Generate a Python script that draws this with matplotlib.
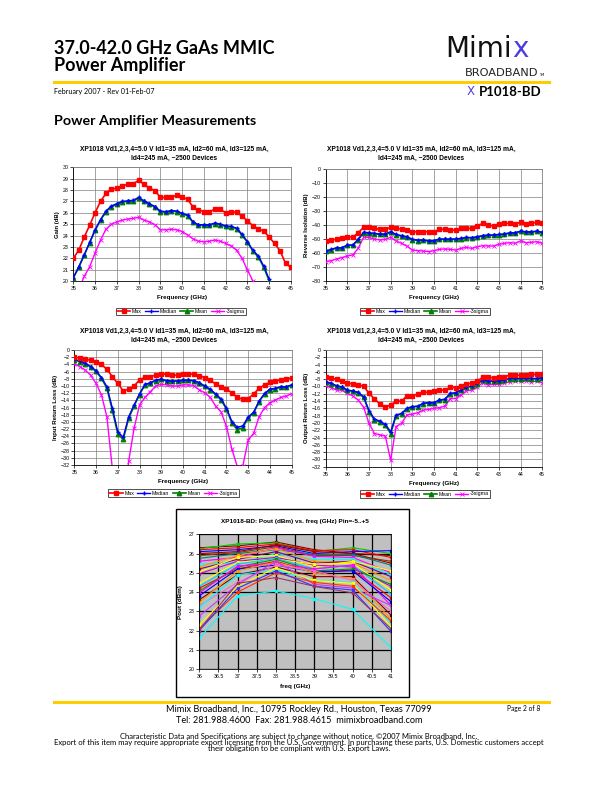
import numpy as np
import matplotlib
matplotlib.use("Agg")
import matplotlib.pyplot as plt

plt.rcParams['font.family'] = ['Liberation Sans', 'DejaVu Sans']

# frequency grid of the measurements (GHz)
freq = np.linspace(35.0, 45.0, 41)
labels = ["Max", "Median", "Mean", "-3sigma"]

# Gain (dB)
gain_max = [22.0, 22.7, 23.85, 24.9, 26.0, 27.0, 27.7, 28.1, 28.15, 28.35,
            28.5, 28.55, 28.85, 28.5, 28.15, 27.95, 27.35, 27.35, 27.35, 27.55,
            27.35, 27.2, 26.5, 26.25, 26.1, 26.1, 26.3, 26.3, 26.0, 26.1,
            26.05, 25.7, 25.3, 24.85, 24.55, 24.4, 23.85, 23.3, 22.65, 21.55, 21.2]
gain_median = [20.3, 21.25, 22.3, 23.4, 24.5, 25.4, 26.15, 26.6, 26.8, 27.0,
               27.05, 27.1, 27.35, 27.05, 26.8, 26.55, 26.15, 26.1, 26.2, 26.15,
               25.95, 25.8, 25.2, 24.95, 24.95, 24.95, 25.1, 25.0, 24.85, 24.8,
               24.65, 24.1, 23.45, 22.7, 22.2, 21.3, 20.15]
gain_mean = [20.25, 21.2, 22.25, 23.35, 24.45, 25.35, 26.1, 26.55, 26.75, 26.95,
             27.0, 27.05, 27.3, 27.0, 26.75, 26.5, 26.1, 26.05, 26.15, 26.1,
             25.9, 25.75, 25.15, 24.9, 24.9, 24.9, 25.05, 24.95, 24.8, 24.75,
             24.6, 24.05, 23.4, 22.65, 22.1, 21.2, 20.0]
# -3sigma gain starts at 35.25 GHz
gain_sigma = [19.2, 20.4, 21.25, 22.45, 23.6, 24.55, 25.0, 25.2, 25.35, 25.45,
              25.5, 25.6, 25.35, 25.2, 24.95, 24.5, 24.5, 24.55, 24.5, 24.35,
              24.05, 23.7, 23.5, 23.45, 23.5, 23.6, 23.5, 23.3, 23.1, 22.7,
              22.0, 20.95, 20.0, 19.0]

# Reverse isolation (dB)
iso_max = [-51.4, -50.7, -50.2, -49.5, -48.3, -48.8, -45.5, -41.7, -41.7, -42.4,
           -43.1, -43.1, -41.7, -42.4, -42.9, -43.6, -44.8, -44.8, -44.8, -44.8,
           -45.0, -43.1, -43.1, -43.6, -43.6, -42.4, -42.4, -42.4, -40.7, -38.8,
           -40.0, -40.7, -39.5, -38.8, -38.8, -39.3, -38.1, -39.3, -38.8, -38.1, -38.8]
iso_median = [-58.6, -57.4, -56.2, -56.2, -54.3, -54.3, -50.2, -45.2, -45.5, -46.0,
              -46.4, -46.4, -44.8, -46.7, -47.6, -48.3, -50.2, -50.7, -50.7, -51.2,
              -51.2, -50.0, -50.0, -50.0, -50.0, -49.5, -48.8, -49.0, -48.3, -47.6,
              -47.1, -47.1, -46.7, -46.4, -45.5, -45.5, -44.3, -44.8, -44.8, -44.3, -45.2]
iso_mean = [-58.9, -57.7, -56.5, -56.4, -54.6, -54.5, -50.5, -45.5, -45.8, -46.3,
            -46.7, -46.7, -45.1, -47.0, -47.9, -48.6, -50.6, -51.1, -51.0, -51.5,
            -51.5, -50.3, -50.3, -50.3, -50.3, -49.8, -49.1, -49.3, -48.6, -47.9,
            -47.4, -47.4, -47.0, -46.7, -45.8, -45.8, -44.6, -45.1, -45.1, -44.6, -45.5]
iso_sigma = [-66.2, -65.5, -64.3, -63.3, -62.1, -61.4, -56.7, -48.8, -48.8, -50.0,
             -50.7, -50.2, -48.8, -51.4, -53.1, -55.0, -57.9, -58.3, -58.6, -59.0,
             -58.3, -57.4, -57.1, -57.4, -57.9, -56.7, -56.0, -56.7, -55.5, -54.8,
             -55.0, -55.0, -53.8, -53.1, -52.6, -53.1, -51.4, -52.6, -52.4, -51.9, -53.1]

# Input return loss (dB)
irl_max = [-1.9, -2.3, -2.6, -2.8, -3.4, -4.0, -5.4, -7.4, -9.3, -11.4,
           -10.9, -10.0, -8.35, -7.6, -7.4, -7.0, -6.7, -6.7, -7.0, -7.0,
           -6.7, -6.7, -6.7, -7.1, -7.7, -8.35, -9.5, -10.2, -10.9, -11.9,
           -13.2, -13.7, -13.5, -12.2, -10.7, -9.7, -9.0, -8.6, -8.35, -8.2, -7.7]
irl_median = [-2.6, -3.1, -3.7, -4.6, -5.75, -7.7, -10.2, -16.2, -22.7, -24.3,
              -18.6, -15.3, -12.2, -9.55, -9.1, -8.35, -8.1, -8.5, -8.6, -8.6,
              -8.35, -8.35, -8.5, -9.1, -10.0, -10.9, -12.2, -13.6, -16.2, -19.9,
              -21.5, -21.1, -18.6, -17.3, -14.2, -12.1, -10.9, -10.7, -10.2, -10.2, -9.7]
irl_mean = [-2.7, -3.2, -3.8, -4.7, -5.9, -7.9, -10.6, -16.8, -23.3, -24.9,
            -19.0, -15.6, -12.4, -9.7, -9.2, -8.5, -8.2, -8.6, -8.7, -8.7,
            -8.45, -8.45, -8.6, -9.2, -10.1, -11.0, -12.4, -13.8, -16.5, -20.3,
            -22.2, -21.6, -18.9, -17.5, -14.4, -12.2, -11.0, -10.8, -10.3, -10.3, -9.8]
irl_sigma = [-3.9, -4.6, -5.6, -7.0, -9.3, -12.5, -18.6, -33.0, -45.0, -45.0,
             -31.0, -21.8, -15.3, -13.2, -11.6, -10.0, -9.55, -9.7, -10.0, -10.0,
             -9.7, -9.7, -9.9, -11.1, -11.9, -13.2, -15.6, -17.2, -21.3, -27.6,
             -32.5, -32.3, -25.0, -23.2, -18.6, -16.0, -14.7, -13.9, -13.2, -12.8, -12.2]

# Output return loss (dB)
orl_max = [-7.5, -7.8, -8.0, -8.5, -9.0, -9.3, -9.6, -9.9, -11.9, -13.4,
           -14.8, -15.7, -15.1, -14.0, -14.0, -12.6, -12.6, -12.1, -11.6, -11.6,
           -11.2, -11.0, -11.0, -10.2, -10.3, -9.8, -9.3, -9.1, -8.5, -7.5,
           -7.5, -7.6, -7.3, -7.3, -6.9, -6.9, -6.9, -6.9, -6.7, -6.7, -6.6]
orl_median = [-8.7, -9.1, -9.8, -10.1, -11.0, -11.2, -11.6, -12.8, -16.6, -18.9,
              -19.5, -20.4, -22.4, -17.8, -17.4, -16.0, -15.5, -15.4, -14.6, -14.4,
              -14.4, -13.7, -13.5, -11.9, -11.7, -11.0, -10.1, -9.9, -9.1, -8.2,
              -8.5, -8.5, -8.4, -8.2, -7.8, -7.8, -7.8, -7.6, -7.8, -7.8, -7.6]
orl_mean = [-8.8, -9.2, -9.9, -10.2, -11.1, -11.3, -11.7, -13.0, -16.9, -19.2,
            -19.7, -20.6, -22.9, -18.0, -17.5, -16.1, -15.6, -15.5, -14.7, -14.5,
            -14.5, -13.8, -13.6, -12.0, -11.8, -11.1, -10.2, -10.0, -9.2, -8.3,
            -8.6, -8.6, -8.5, -8.3, -7.9, -7.9, -7.9, -7.7, -7.9, -7.9, -7.7]
orl_sigma = [-9.8, -10.3, -11.0, -11.0, -11.9, -12.6, -13.7, -15.7, -20.1, -22.9,
             -23.3, -23.6, -30.2, -21.0, -20.1, -17.8, -17.6, -17.2, -16.5, -16.3,
             -16.0, -15.8, -15.4, -13.3, -13.3, -12.3, -11.2, -11.0, -10.1, -9.0,
             -9.6, -9.4, -9.4, -9.1, -8.7, -8.5, -8.5, -8.5, -8.7, -8.5, -9.0]

# Pout (dBm) vs freq, one curve per device/drive level
pout_freq = [36, 37, 38, 39, 40, 41]
pout_curves = [
    [26.3, 26.4, 26.6, 26.2, 26.0, 25.9],
    [26.25, 26.5, 26.55, 26.1, 26.3, 26.0],
    [26.2, 26.3, 26.5, 26.15, 26.2, 25.8],
    [26.1, 26.2, 26.4, 26.0, 26.1, 26.15],
    [26.0, 26.1, 26.45, 26.1, 26.0, 25.5],
    [25.9, 26.05, 26.35, 25.9, 25.9, 25.6],
    [25.75, 26.0, 26.2, 25.95, 25.95, 25.4],
    [25.6, 25.8, 26.3, 25.85, 25.8, 25.0],
    [25.45, 25.5, 26.0, 25.7, 25.7, 24.9],
    [25.3, 25.9, 26.25, 25.6, 25.5, 24.6],
    [25.2, 25.7, 26.1, 25.5, 25.6, 24.8],
    [25.05, 25.8, 25.9, 25.3, 25.6, 25.1],
    [24.95, 25.6, 25.8, 25.4, 25.3, 24.3],
    [24.45, 25.55, 25.7, 25.45, 25.5, 24.1],
    [24.3, 25.45, 25.75, 25.2, 25.4, 23.9],
    [24.2, 25.2, 25.6, 25.0, 25.15, 23.7],
    [24.05, 25.3, 25.7, 25.1, 25.2, 24.4],
    [23.95, 25.35, 25.5, 25.2, 25.4, 23.3],
    [23.8, 25.2, 25.4, 25.05, 25.1, 23.5],
    [23.6, 24.9, 25.3, 24.8, 24.8, 22.8],
    [23.45, 25.1, 25.55, 25.0, 24.7, 22.6],
    [23.3, 24.5, 25.4, 25.1, 24.6, 23.0],
    [23.2, 24.9, 25.15, 24.6, 24.5, 22.4],
    [22.75, 24.4, 25.6, 24.4, 24.2, 23.3],
    [22.3, 24.3, 25.25, 24.6, 24.45, 22.2],
    [22.1, 24.0, 25.0, 24.5, 24.3, 22.5],
    [22.0, 24.2, 25.1, 24.3, 24.1, 21.95],
    [22.05, 24.45, 24.75, 24.3, 23.95, 22.1],
    [21.6, 23.8, 24.05, 23.65, 23.1, 21.1],
]
pout_colors = ["#800000", "#00cc00", "#ff0000", "#0000ff", "#990000", "#993300",
               "#008080", "#ff00ff", "#00ffff", "#ff9900", "#800080", "#ffff00",
               "#cc00cc", "#ffff00", "#00ccff", "#ff0000", "#009900", "#ff00ff",
               "#0000ff", "#800000", "#ff9900", "#ff66cc", "#00ffff", "#cc33ff",
               "#ffff00", "#ff3300", "#3333ff", "#993366", "#00ffff"]

W, H = 612, 792
fig = plt.figure(figsize=(W / 100, H / 100), dpi=100)


def box(x0, y0, x1, y1):
    return [x0 / W, 1 - y1 / H, (x1 - x0) / W, (y1 - y0) / H]


def fx(x):
    return x / W


def fy(y):
    return 1 - y / H


chart_title = ("XP1018 Vd1,2,3,4=5.0 V Id1=35 mA, Id2=60 mA, Id3=125 mA,\n"
               "Id4=245 mA, ~2500 Devices")


def stats_chart(rect, series, ylim, ystep, ylabel, title_xy, legend_xy, sigma_start=0):
    ax = fig.add_axes(box(*rect))
    n = [len(s) for s in series]
    ax.plot(freq[sigma_start:sigma_start + n[3]], series[3], "-x", color="#ff00ff",
            lw=1.0, ms=3, mew=0.6, label=labels[3], zorder=3)
    ax.plot(freq[:n[2]], series[2], "-^", color="#008000", lw=1.2, ms=3.2,
            label=labels[2], zorder=4)
    ax.plot(freq[:n[1]], series[1], "-+", color="#0000ff", lw=1.0, ms=3.5,
            mew=1.0, label=labels[1], zorder=5)
    ax.plot(freq[:n[0]], series[0], "-s", color="#ff0000", lw=1.2, ms=3.2,
            label=labels[0], zorder=6)
    ax.set_xlim(35, 45)
    ax.set_ylim(*ylim)
    ax.set_xticks(np.arange(35, 46, 1))
    ax.set_yticks(np.arange(ylim[0], ylim[1] + 0.01, ystep))
    ax.grid(True, color="#808080", lw=0.5)
    ax.tick_params(labelsize=3.8, length=2, width=0.5, pad=1.5)
    for s in ["top", "right"]:
        ax.spines[s].set_color("#808080")
        ax.spines[s].set_linewidth(0.6)
    for s in ["left", "bottom"]:
        ax.spines[s].set_linewidth(0.6)
    ax.set_ylabel(ylabel, fontsize=4.3, fontweight="bold", labelpad=2)
    ax.set_xlabel("Frequency (GHz)", fontsize=4.5, fontweight="bold", labelpad=3)
    fig.text(fx(title_xy[0]), fy(title_xy[1]), chart_title, ha="center",
             va="center", fontsize=4.8, fontweight="bold", linespacing=1.5)
    handles, labs = ax.get_legend_handles_labels()
    order = [3, 2, 1, 0]
    leg = fig.legend([handles[i] for i in order], [labs[i] for i in order],
                     loc="center", bbox_to_anchor=(fx(legend_xy[0]), fy(legend_xy[1])),
                     ncol=4, fontsize=3.8, frameon=True, fancybox=False,
                     edgecolor="black", handlelength=2.5, columnspacing=0.6,
                     handletextpad=0.3, borderpad=0.25, borderaxespad=0)
    leg.get_frame().set_linewidth(0.6)
    return ax


stats_chart((73.3, 167.3, 291, 281), [gain_max, gain_median, gain_mean, gain_sigma],
            (20, 30), 1, "Gain (dB)", (174, 154), (181, 311.5), sigma_start=1)
stats_chart((325.7, 169, 542.3, 281), [iso_max, iso_median, iso_mean, iso_sigma],
            (-80, 0), 10, "Reverse Isolation (dB)", (421, 154), (425, 311.5))
stats_chart((74.3, 350, 291.7, 465), [irl_max, irl_median, irl_mean, irl_sigma],
            (-32, 0), 2, "Input Return Loss (dB)", (174, 336), (173.5, 493))
stats_chart((325.7, 350, 542.3, 466.7), [orl_max, orl_median, orl_mean, orl_sigma],
            (-32, 0), 2, "Output Return Loss (dB)", (421, 336), (425, 494))

# Pout chart with its outer frame
frame = plt.Rectangle((fx(176), fy(697)), (409 - 176) / W, (697 - 508.5) / H,
                      transform=fig.transFigure, fill=False, ec="black", lw=1.0)
fig.patches.append(frame)
ax5 = fig.add_axes(box(199.3, 534.3, 391, 669))
ax5.set_facecolor("#c0c0c0")
for vals, col in zip(pout_curves, pout_colors):
    ax5.plot(pout_freq, vals, "-s", color=col, lw=0.8, ms=2.0)
ax5.set_xlim(36, 41)
ax5.set_ylim(20, 27)
ax5.set_xticks(np.arange(36, 41.01, 0.5))
ax5.set_xticklabels(["36", "36.5", "37", "37.5", "38", "38.5", "39", "39.5",
                     "40", "40.5", "41"])
ax5.set_yticks(np.arange(20, 28, 1))
ax5.grid(True, color="black", lw=0.9)
ax5.set_axisbelow(True)
ax5.tick_params(labelsize=3.8, length=2, width=0.5, pad=1.5)
for s in ax5.spines.values():
    s.set_linewidth(0.6)
ax5.set_ylabel("Pout (dBm)", fontsize=4.5, fontweight="bold", labelpad=4)
ax5.set_xlabel("freq (GHz)", fontsize=4.5, fontweight="bold", labelpad=4)
fig.text(fx(295), fy(521), "XP1018-BD: Pout (dBm) vs. freq (GHz) Pin=-5..+5",
         ha="center", va="center", fontsize=4.6, fontweight="bold")

# page header
head = ["Lato", "DejaVu Sans"]
fig.text(fx(54), fy(48), "37.0-42.0 GHz GaAs MMIC", family=head, fontsize=13,
         fontweight="bold", va="center")
fig.text(fx(54), fy(66), "Power Amplifier", family=head, fontsize=13,
         fontweight="bold", va="center")
fig.add_artist(plt.Line2D([fx(54), fx(549)], [fy(82), fy(82)], color="#ffcc00", lw=2.2))
fig.text(fx(54), fy(91.5), "February 2007 - Rev 01-Feb-07", family=head, fontsize=5.1,
         va="center")
fig.text(fx(54), fy(121), "Power Amplifier Measurements", family=head, fontsize=10.3,
         fontweight="bold", va="center")

# logo
logo_blue = "#4a3de0"
mimi = fig.text(fx(445), fy(49), "Mimi", family=["DejaVu Sans"], fontsize=20,
                va="center", color="#111111")
rend = fig.canvas.get_renderer()
bb = mimi.get_window_extent(rend)
fig.text(bb.x1 / W + 1 / W, fy(49), "x", family=["DejaVu Sans"], fontsize=20,
         va="center", color=logo_blue)
fig.text(fx(538), fy(72.5), "BROADBAND", family=["DejaVu Sans"], fontsize=8.2,
         va="center", ha="right", color="#222222")
fig.text(fx(539), fy(75), "TM", family=["DejaVu Sans"], fontsize=2.6, va="center",
         ha="left")
fig.text(fx(467), fy(91.5), "X", family=["DejaVu Sans"], fontsize=8.5, va="center",
         color=logo_blue)
fig.text(fx(541), fy(91.5), "P1018-BD", family=head, fontsize=9.5, va="center",
         ha="right", fontweight="bold")

# page footer
fig.add_artist(plt.Line2D([fx(54), fx(549)], [fy(702), fy(702)], color="#ffcc00", lw=2.2))
fig.text(fx(299), fy(710), "Mimix Broadband, Inc., 10795 Rockley Rd., Houston, Texas 77099",
         family=head, fontsize=6.6, ha="center", va="center")
fig.text(fx(299), fy(720.5), "Tel: 281.988.4600  Fax: 281.988.4615  mimixbroadband.com",
         family=head, fontsize=6.6, ha="center", va="center")
fig.text(fx(540), fy(709), "Page 2 of 8", family=head, fontsize=4.8, ha="right",
         va="center")
fig.text(fx(299), fy(736),
         "Characteristic Data and Specifications are subject to change without notice. \u00a92007 Mimix Broadband, Inc.",
         family=head, fontsize=5.5, ha="center", va="center")
fig.text(fx(299), fy(742.5),
         "Export of this item may require appropriate export licensing from the U.S. Government. In purchasing these parts, U.S. Domestic customers accept",
         family=head, fontsize=5.5, ha="center", va="center")
fig.text(fx(299), fy(749), "their obligation to be compliant with U.S. Export Laws.",
         family=head, fontsize=5.5, ha="center", va="center")

fig.savefig("out.png", dpi=100)
